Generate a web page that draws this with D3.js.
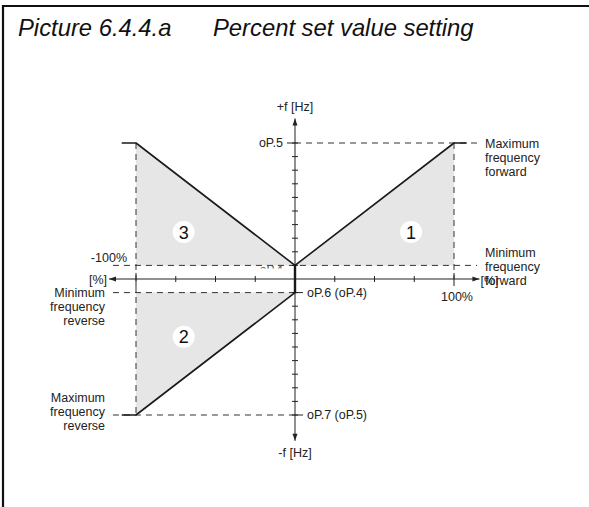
<!DOCTYPE html>
<html>
<head>
<meta charset="utf-8">
<script src="https://cdn.jsdelivr.net/npm/d3@7"></script>
<style>
  html, body { margin: 0; padding: 0; background: #fff; }
  svg { display: block; font-family: "Liberation Sans", Arial, sans-serif; }
</style>
</head>
<body>
<svg id="chart" width="589" height="507"></svg>
<script>
// Percent set value (x, %) against output frequency (y, in tick steps of the f axis)
const pctTicks = [-100, -75, -50, -25, 25, 50, 75, 100];
const freqTicks = [1, 2, 3, 4, 5, 6, 7, 8, 9, 10, -1, -2, -3, -4, -5, -6, -7, -8, -9, -10];
const fMin = 1;     // minimum frequency level
const fMax = 10;    // maximum frequency level

// characteristic curves [percent, frequency]
const curveForward = [[0, fMin], [100, fMax], [108, fMax]];
const curveReverseUpper = [[0, fMin], [-100, fMax], [-109, fMax]];
const curveReverseLower = [[0, -fMin], [-100, -fMax], [-109, -fMax]];
const curveDeadband = [[0, fMin], [0, -fMin]];

// shaded working ranges
const area1 = [[0, fMin], [100, fMax], [100, fMin]];
const area3 = [[0, fMin], [-100, fMax], [-100, fMin]];
const area2 = [[-100, -fMin], [0, -fMin], [-100, -fMax]];

// numbered range markers
const markers = [
  { id: "1", pct: 73, f: 3.45 },
  { id: "3", pct: -70, f: 3.45 },
  { id: "2", pct: -70, f: -4.25 }
];

const svg = d3.select("#chart");
const x = d3.scaleLinear().domain([-100, 100]).range([136, 454]);
const y = d3.scaleLinear().domain([-10, 10]).range([415, 143]);
const line = d3.line().x(d => x(d[0])).y(d => y(d[1]));

// frame
svg.append("line").attr("x1", 3).attr("x2", 589).attr("y1", 6).attr("y2", 6)
  .attr("stroke", "#111").attr("stroke-width", 2.2);
svg.append("line").attr("x1", 3).attr("x2", 3).attr("y1", 5).attr("y2", 507)
  .attr("stroke", "#111").attr("stroke-width", 2.2);

// title
const title = svg.append("g").attr("font-style", "italic").attr("font-size", 23.8).attr("fill", "#111");
title.append("text").attr("x", 18).attr("y", 36).text("Picture 6.4.4.a");
title.append("text").attr("x", 213).attr("y", 36).text("Percent set value setting");

// shaded areas
svg.selectAll("path.area").data([area1, area3, area2]).join("path")
  .attr("class", "area")
  .attr("d", d => line(d) + "Z")
  .attr("fill", "#e6e6e7");

// dashed guide lines
const dash = svg.append("g").attr("stroke", "#333").attr("stroke-width", 1)
  .attr("stroke-dasharray", "6,5").attr("fill", "none");
const guides = [
  [[0, fMax], [114.5, fMax]],
  [[-114.5, fMin], [114.5, fMin]],
  [[-114.5, -fMin], [0, -fMin]],
  [[-114.5, -fMax], [0, -fMax]],
  [[-100, fMax], [-100, -fMax]],
  [[100, fMax], [100, 0]]
];
dash.selectAll("path").data(guides).join("path").attr("d", line);

// axes
const axes = svg.append("g").attr("stroke", "#222").attr("stroke-width", 1);
axes.append("line").attr("x1", x(-117)).attr("x2", x(116)).attr("y1", y(0)).attr("y2", y(0));
axes.append("line").attr("x1", x(0)).attr("x2", x(0)).attr("y1", y(11.8)).attr("y2", y(-11.9));

// arrow heads
const heads = svg.append("g").attr("fill", "#222");
const ah = (px, py, dx, dy) => {
  const len = 7, w = 2.5;
  const nx = -dy, ny = dx;
  return `M${px},${py}L${px - dx * len + nx * w},${py - dy * len + ny * w}L${px - dx * len - nx * w},${py - dy * len - ny * w}Z`;
};
heads.append("path").attr("d", ah(x(-117), y(0), -1, 0));
heads.append("path").attr("d", ah(x(116), y(0), 1, 0));
heads.append("path").attr("d", ah(x(0), y(11.8), 0, -1));
heads.append("path").attr("d", ah(x(0), y(-11.9), 0, 1));

// ticks on the percent axis
axes.selectAll("line.xt").data(pctTicks).join("line").attr("class", "xt")
  .attr("x1", d => x(d)).attr("x2", d => x(d))
  .attr("y1", d => y(0) - (Math.abs(d) === 100 ? 6 : 3))
  .attr("y2", d => y(0) + (Math.abs(d) === 100 ? 7 : 3));

// ticks on the frequency axis
axes.selectAll("line.yt").data(freqTicks).join("line").attr("class", "yt")
  .attr("x1", x(0) - 3).attr("x2", x(0) + 3)
  .attr("y1", d => y(d)).attr("y2", d => y(d));
axes.append("line").attr("x1", x(0) - 8).attr("x2", x(0)).attr("y1", y(fMax)).attr("y2", y(fMax));
axes.append("line").attr("x1", x(0)).attr("x2", x(0) + 8).attr("y1", y(-fMin)).attr("y2", y(-fMin));
axes.append("line").attr("x1", x(0)).attr("x2", x(0) + 8).attr("y1", y(-fMax)).attr("y2", y(-fMax));

// characteristic curves
svg.append("g").attr("fill", "none").attr("stroke", "#1a1a1a").attr("stroke-width", 1.6)
  .attr("stroke-linejoin", "round")
  .selectAll("path").data([curveForward, curveReverseUpper, curveReverseLower, curveDeadband]).join("path")
  .attr("d", line);
svg.append("path").attr("d", line(curveDeadband)).attr("stroke", "#1a1a1a").attr("stroke-width", 2.4);

// partially covered origin label
svg.append("clipPath").attr("id", "clipOrigin").append("rect")
  .attr("x", 250).attr("y", y(fMin) - 1).attr("width", 40).attr("height", 4);
svg.append("text").attr("clip-path", "url(#clipOrigin)")
  .attr("x", 283).attr("y", y(fMin) + 9).attr("text-anchor", "end")
  .attr("font-size", 12).attr("fill", "#555").text("oP.4");

// range markers
const mk = svg.append("g").selectAll("g").data(markers).join("g")
  .attr("transform", d => `translate(${x(d.pct)},${y(d.f)})`);
mk.append("circle").attr("r", 11).attr("fill", "#fff");
mk.append("text").attr("text-anchor", "middle").attr("dy", "0.36em")
  .attr("font-size", 18).attr("fill", "#111").text(d => d.id);

// text labels
const lab = svg.append("g").attr("font-size", 12.5).attr("fill", "#222");
const addLines = (lines, px, py, anchor) => {
  lines.forEach((t, i) => lab.append("text").attr("x", px).attr("y", py + i * 14)
    .attr("text-anchor", anchor).text(t));
};
lab.append("text").attr("x", x(0)).attr("y", 111).attr("text-anchor", "middle").text("+f [Hz]");
lab.append("text").attr("x", x(0)).attr("y", 457).attr("text-anchor", "middle").text("-f [Hz]");
lab.append("text").attr("x", x(0) - 12).attr("y", y(fMax) + 4).attr("text-anchor", "end").text("oP.5");
lab.append("text").attr("x", x(0) + 12).attr("y", y(-fMin) + 4).text("oP.6 (oP.4)");
lab.append("text").attr("x", x(0) + 12).attr("y", y(-fMax) + 4).text("oP.7 (oP.5)");
lab.append("text").attr("x", x(100) + 3).attr("y", y(0) + 22).attr("text-anchor", "middle").text("100%");
lab.append("text").attr("x", x(-100) - 9).attr("y", y(fMin) - 3).attr("text-anchor", "end").text("-100%");
lab.append("text").attr("x", x(-117) - 2).attr("y", y(0) + 5).attr("text-anchor", "end").text("[%]");
lab.append("text").attr("x", x(116) + 1).attr("y", y(0) + 6).text("[%]");
addLines(["Maximum", "frequency", "forward"], 485, y(fMax) + 5, "start");
addLines(["Minimum", "frequency", "forward"], 485, y(fMin) - 8, "start");
addLines(["Minimum", "frequency", "reverse"], 105, y(-fMin) + 4, "end");
addLines(["Maximum", "frequency", "reverse"], 105, y(-fMax) - 13, "end");
</script>
</body>
</html>
